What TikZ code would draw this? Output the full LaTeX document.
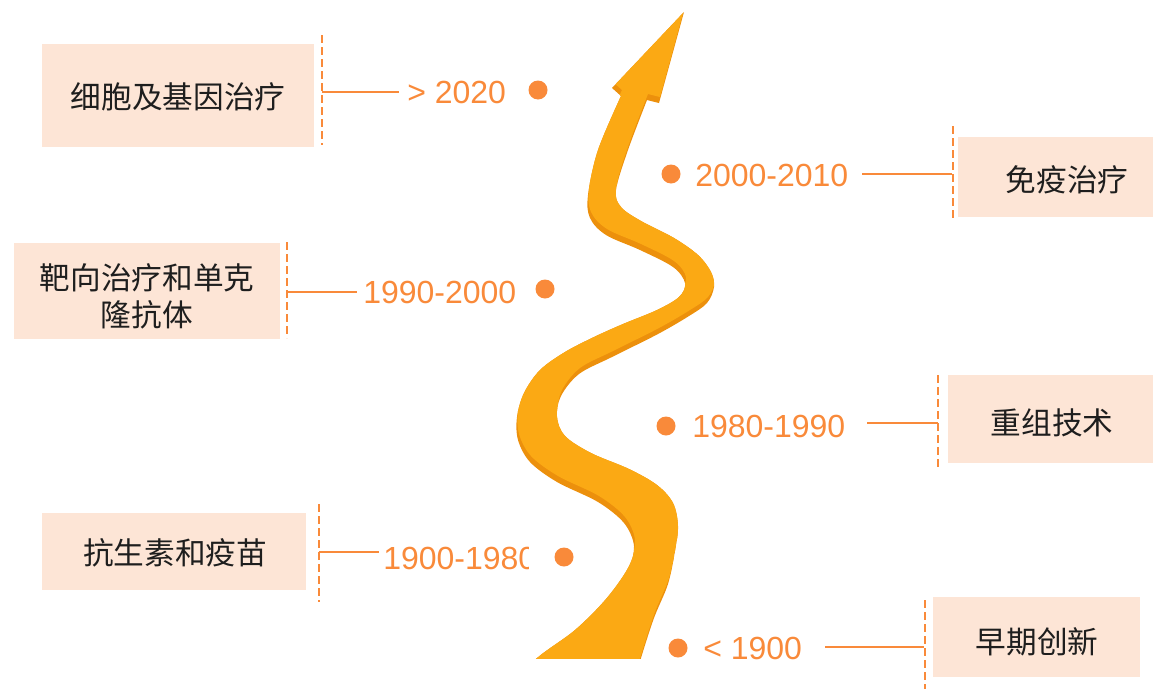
\documentclass[tikz,border=0pt]{standalone}
\usepackage{fontspec}
\setmainfont{Liberation Sans}
\newfontfamily\cjk{Noto Sans CJK SC}

\definecolor{accent}{HTML}{F98A3A}
\definecolor{peach}{HTML}{FDE5D6}
\definecolor{ribbontop}{HTML}{FBA914}
\definecolor{ribbonside}{HTML}{EC900C}
\definecolor{ink}{HTML}{1E1E1E}

% outline of the winding ribbon arrow (1 unit = 1 px, y grows downwards)
\newcommand\ribbonoutline{%
  plot[smooth, tension=0.55] coordinates {
    (505,690) (537,658) (575,630) (606,599) (628,568) (634,546) (624,523)
    (598,502) (557,482) (530,462) (518,440) (517,417) (524,393) (540,370)
    (565,352) (594,337) (623,324) (657,310) (679,297) (685,283) (673,267)
    (640,250) (606,235) (590,218) (588,195) (598,150) (621,96)}
  -- (612,88) -- (684,12) -- (659,103) -- (647,100)
  -- plot[smooth, tension=0.55] coordinates {
    (647,100) (628,150) (616,190) (621,207) (641,221) (674,238) (698,255)
    (711,272) (714,287) (707,303) (689,316) (658,334) (612,357) (579,374)
    (561,396) (557,417) (565,436) (591,453) (629,469) (657,485) (673,503)
    (678,526) (675,551) (668,584) (654,618) (641,658) (632,690)}
  -- cycle}

\begin{document}
\begin{tikzpicture}[
  x=0.75pt, y=-0.75pt,
  topicbox/.style 2 args={fill=peach, draw=none, inner sep=0,
    minimum width=#1*0.75pt, minimum height=#2*0.75pt},
  topic/.style={font=\cjk\fontsize{23}{27.75}\selectfont, text=ink,
    align=center, inner sep=0},
  year/.style={font=\fontsize{24}{28}\selectfont, text=accent,
    inner sep=0, anchor=west},
  yeardot/.style={circle, fill=accent, inner sep=0, minimum size=14.25pt},
  link/.style={draw=accent, line width=1.5pt},
  rule/.style={draw=accent, line width=1.5pt, dash pattern=on 6pt off 3pt},
]
\useasboundingbox (0,0) rectangle (1153,689);

% ribbon arrow: side face below, top face shifted up
\begin{scope}
  \clip (0,0) rectangle (1153,658);
  \fill[ribbonside] \ribbonoutline;
  \begin{scope}
    \clip \ribbonoutline;
    \fill[ribbontop, shift={(1,-6)}] \ribbonoutline;
  \end{scope}
\end{scope}

% topic boxes
\node[topicbox={272}{103}] (b1) at (178,95) {};
\node[topicbox={195}{80}]  (b2) at (1055.5,177) {};
\node[topicbox={266}{96}]  (b3) at (147,291) {};
\node[topicbox={205}{88}]  (b4) at (1050.5,419) {};
\node[topicbox={264}{77}]  (b5) at (174,551.5) {};
\node[topicbox={207}{80}]  (b6) at (1036.5,637) {};

\node[topic] (t1) at (178,97) {细胞及基因治疗};
\node[topic] (t2) at (1067,180) {免疫治疗};
\node[topic] (t3) at (147,296) {靶向治疗和单克\\隆抗体};
\node[topic] (t4) at (1052,423) {重组技术};
\node[topic] (t5) at (175,553) {抗生素和疫苗};
\node[topic] (t6) at (1037,642) {早期创新};

% dashed rules beside the boxes
\coordinate (r1a) at (322,35);  \coordinate (r1b) at (322,145);
\coordinate (r2a) at (953,126); \coordinate (r2b) at (953,218);
\coordinate (r3a) at (287,242); \coordinate (r3b) at (287,338);
\coordinate (r4a) at (938,375); \coordinate (r4b) at (938,467);
\coordinate (r5a) at (319,504); \coordinate (r5b) at (319,602);
\coordinate (r6a) at (925,600); \coordinate (r6b) at (925,689);
\foreach \r in {1,...,6} {\draw[rule] (r\r a) -- (r\r b);}

% year labels
\node[year] (y1) at (407,92) {> 2020};
\node[year] (y2) at (695,175) {2000-2010};
\node[year] (y3) at (363,292) {1990-2000};
\node[year] (y4) at (692,426) {1980-1990};
\begin{scope}
  \clip (370,520) rectangle (528,600);
  \node[year] (y5) at (383,558) {1900-1980};
\end{scope}
\node[year] (y6) at (703,648) {< 1900};

% dots
\node[yeardot] (d1) at (538,90) {};
\node[yeardot] (d2) at (671,174) {};
\node[yeardot] (d3) at (545,289) {};
\node[yeardot] (d4) at (666,426) {};
\node[yeardot] (d5) at (564,557) {};
\node[yeardot] (d6) at (678,648) {};

% connectors from the rules to the year labels
\coordinate (c1a) at (322,92);  \coordinate (c1b) at (399,92);
\coordinate (c2a) at (862,174); \coordinate (c2b) at (952,174);
\coordinate (c3a) at (287,292); \coordinate (c3b) at (357,292);
\coordinate (c4a) at (867,423); \coordinate (c4b) at (938,423);
\coordinate (c5a) at (319,552); \coordinate (c5b) at (379,552);
\coordinate (c6a) at (825,647); \coordinate (c6b) at (924,647);
\foreach \c in {1,...,6} {\draw[link] (c\c a) -- (c\c b);}
\end{tikzpicture}
\end{document}
